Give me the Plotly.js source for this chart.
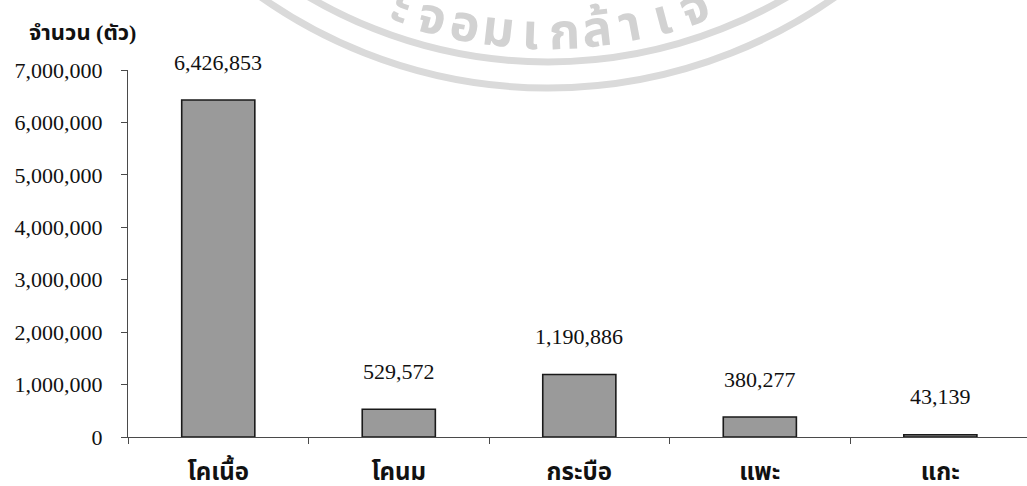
<!DOCTYPE html>
<html>
<head>
<meta charset="utf-8">
<script src="https://cdn.plot.ly/plotly-3.0.1.min.js"></script>
<style>
  html, body { margin: 0; padding: 0; background: #ffffff; }
  #chart { width: 1027px; height: 486px; }
</style>
</head>
<body>
<div id="chart"></div>
<script>
// Livestock head counts by type
const categories = ["โคเนื้อ", "โคนม", "กระบือ", "แพะ", "แกะ"];
const headCounts = [6426853, 529572, 1190886, 380277, 43139];
const yTickValues = [0, 1000000, 2000000, 3000000, 4000000, 5000000, 6000000, 7000000];
const yAxisLabel = "จำนวน (ตัว)";
const sealText = ["ะ", "จ", "อ", "ม", "เ", "ก", "ล้", "า", "เ", "จ"];

const W = 1027, H = 486;
const M = { l: 128, r: 0, t: 70, b: 49 };
const plotW = W - M.l - M.r, plotH = H - M.t - M.b;
const px2paperX = px => (px - M.l) / plotW;
const px2paperY = py => (H - M.b - py) / plotH;

const serif = "'Liberation Serif', 'Times New Roman', 'Noto Serif Thai', serif";
const thaiBold = "'Liberation Serif', 'Noto Sans Thai', 'Loma', 'Garuda', serif";

// faint seal in the background: two rings plus lettering along the lower arc
const sealCx = 548, sealCy = -410;
const rings = [472, 498].map(r => ({
  type: "circle", layer: "below", xref: "paper", yref: "paper",
  x0: px2paperX(sealCx - r), x1: px2paperX(sealCx + r),
  y0: px2paperY(sealCy + r), y1: px2paperY(sealCy - r),
  line: { color: "#dadada", width: 7 }
}));
const sealR = 444, startDeg = -19.4, stepDeg = 4.3;
const sealLetters = sealText.map((ch, i) => {
  const a = (startDeg + i * stepDeg) * Math.PI / 180;
  const px = sealCx + sealR * Math.sin(a);
  const py = sealCy + sealR * Math.cos(a);
  return {
    xref: "paper", yref: "paper", x: px2paperX(px), y: px2paperY(py),
    xanchor: "center", yanchor: "middle", showarrow: false,
    text: ch, textangle: -(startDeg + i * stepDeg),
    font: { family: "'Noto Sans Thai', 'Noto Sans', sans-serif", size: 50, color: "#d2d2d2", weight: 700 }
  };
});

// value labels above each bar
const valueLabels = categories.map((c, i) => ({
  x: c, y: headCounts[i], xref: "x", yref: "y",
  yshift: 38, yanchor: "middle", showarrow: false,
  text: headCounts[i].toLocaleString("en-US"),
  font: { family: serif, size: 22, color: "#111111" }
}));

const axisTitle = {
  xref: "paper", yref: "paper", x: px2paperX(27), y: px2paperY(32),
  xanchor: "left", yanchor: "middle", showarrow: false,
  text: "<b>" + yAxisLabel + "</b>",
  font: { family: thaiBold, size: 22, color: "#111111" }
};

const trace = {
  type: "bar",
  x: categories,
  y: headCounts,
  width: 0.405,
  marker: { color: "#9a9a9a", line: { color: "#1a1a1a", width: 1.6 } },
  hoverinfo: "skip",
  cliponaxis: false
};

const layout = {
  width: W, height: H,
  margin: M,
  paper_bgcolor: "#ffffff",
  plot_bgcolor: "rgba(0,0,0,0)",
  showlegend: false,
  shapes: rings,
  annotations: [...sealLetters, ...valueLabels, axisTitle],
  xaxis: {
    type: "category",
    range: [-0.5, 4.48],
    showline: true, linecolor: "#4a4a4a", linewidth: 1,
    ticks: "outside", tickson: "boundaries", ticklen: 6, tickcolor: "#4a4a4a", tickwidth: 1,
    showgrid: false, zeroline: false,
    ticklabelstandoff: 13,
    tickfont: { family: thaiBold, size: 24, color: "#111111", weight: 700 }
  },
  yaxis: {
    range: [0, 7000000],
    tickvals: yTickValues,
    tickformat: ",d",
    showline: true, linecolor: "#4a4a4a", linewidth: 1,
    ticks: "outside", ticklen: 6, tickcolor: "#4a4a4a", tickwidth: 1,
    showgrid: false, zeroline: false,
    ticklabelstandoff: 14,
    tickfont: { family: serif, size: 22, color: "#111111" }
  }
};

Plotly.newPlot("chart", [trace], layout, { staticPlot: true, displayModeBar: false });
</script>
</body>
</html>
